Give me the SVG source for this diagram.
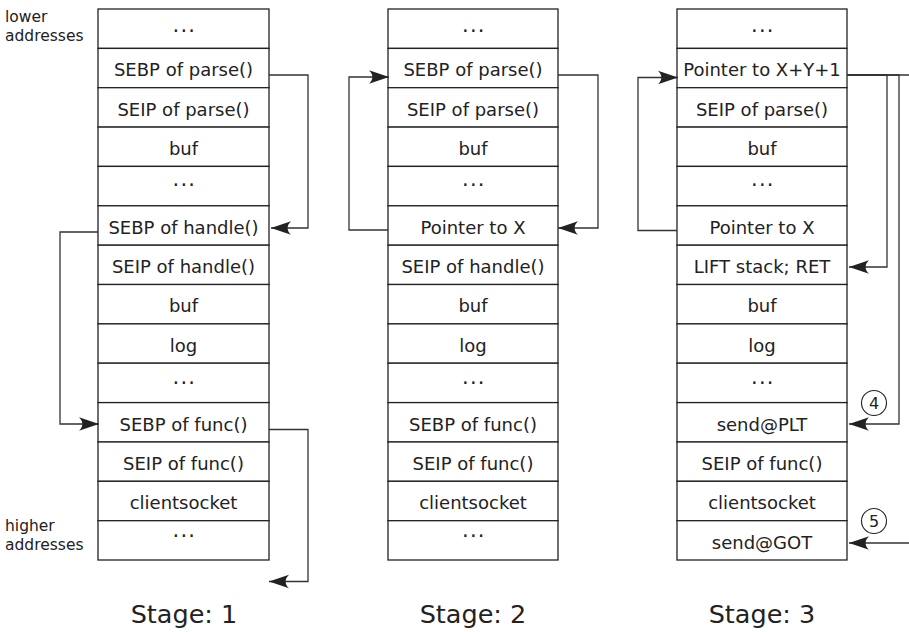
<svg xmlns="http://www.w3.org/2000/svg" width="909" height="632" viewBox="0 0 909 632">
<defs>
<style>
.cell{fill:#fff;stroke:#222;stroke-width:1.3}
.t{font-family:"DejaVu Sans",sans-serif;font-size:18px;fill:#222;text-anchor:middle}
.d{font-family:"DejaVu Sans",sans-serif;font-size:21px;fill:#222;text-anchor:middle;letter-spacing:1.3px}
.side{font-family:"DejaVu Sans",sans-serif;font-size:15.5px;fill:#222}
.stage{font-family:"DejaVu Sans",sans-serif;font-size:25.5px;fill:#222;text-anchor:middle}
.num{font-family:"DejaVu Sans",sans-serif;font-size:16px;fill:#222;text-anchor:middle}
.c{fill:none;stroke:#333;stroke-width:1.3}
.circ{fill:#fff;stroke:#222;stroke-width:1.1}
</style>
<marker id="ah" markerUnits="userSpaceOnUse" markerWidth="24" markerHeight="16" viewBox="-22 -8 24 16" refX="0" refY="0" orient="auto" overflow="visible">
<path d="M0,0 L-20,-6.8 C-15.5,-2.5 -15.5,2.5 -20,6.8 Z" fill="#222"/>
</marker>
</defs>

<text class="side" x="5" y="21.5">lower</text>
<text class="side" x="5" y="40.5">addresses</text>
<text class="side" x="5" y="531">higher</text>
<text class="side" x="5" y="550">addresses</text>

<g id="stack1">
<rect class="cell" x="98" y="9" width="171" height="39.4"/>
<rect class="cell" x="98" y="48.4" width="171" height="39.3"/>
<rect class="cell" x="98" y="87.7" width="171" height="39.4"/>
<rect class="cell" x="98" y="127.1" width="171" height="39.3"/>
<rect class="cell" x="98" y="166.4" width="171" height="39.4"/>
<rect class="cell" x="98" y="205.8" width="171" height="39.4"/>
<rect class="cell" x="98" y="245.2" width="171" height="39.3"/>
<rect class="cell" x="98" y="284.5" width="171" height="39.4"/>
<rect class="cell" x="98" y="323.9" width="171" height="39.3"/>
<rect class="cell" x="98" y="363.2" width="171" height="39.4"/>
<rect class="cell" x="98" y="402.6" width="171" height="39.4"/>
<rect class="cell" x="98" y="442" width="171" height="39.3"/>
<rect class="cell" x="98" y="481.3" width="171" height="39.4"/>
<rect class="cell" x="98" y="520.7" width="171" height="39.3"/>
<text class="d" x="184.4" y="32">...</text>
<text class="t" x="183.5" y="76.2">SEBP of parse()</text>
<text class="t" x="183.5" y="115.6">SEIP of parse()</text>
<text class="t" x="183.5" y="155">buf</text>
<text class="d" x="184.4" y="186.3">...</text>
<text class="t" x="183.5" y="233.6">SEBP of handle()</text>
<text class="t" x="183.5" y="273">SEIP of handle()</text>
<text class="t" x="183.5" y="312.4">buf</text>
<text class="t" x="183.5" y="351.7">log</text>
<text class="d" x="184.4" y="384">...</text>
<text class="t" x="183.5" y="430.5">SEBP of func()</text>
<text class="t" x="183.5" y="469.8">SEIP of func()</text>
<text class="t" x="183.5" y="509.2">clientsocket</text>
<text class="d" x="184.4" y="537">...</text>
</g>

<g id="stack2">
<rect class="cell" x="388" y="9" width="170" height="39.4"/>
<rect class="cell" x="388" y="48.4" width="170" height="39.3"/>
<rect class="cell" x="388" y="87.7" width="170" height="39.4"/>
<rect class="cell" x="388" y="127.1" width="170" height="39.3"/>
<rect class="cell" x="388" y="166.4" width="170" height="39.4"/>
<rect class="cell" x="388" y="205.8" width="170" height="39.4"/>
<rect class="cell" x="388" y="245.2" width="170" height="39.3"/>
<rect class="cell" x="388" y="284.5" width="170" height="39.4"/>
<rect class="cell" x="388" y="323.9" width="170" height="39.3"/>
<rect class="cell" x="388" y="363.2" width="170" height="39.4"/>
<rect class="cell" x="388" y="402.6" width="170" height="39.4"/>
<rect class="cell" x="388" y="442" width="170" height="39.3"/>
<rect class="cell" x="388" y="481.3" width="170" height="39.4"/>
<rect class="cell" x="388" y="520.7" width="170" height="39.3"/>
<text class="d" x="473.9" y="32">...</text>
<text class="t" x="473" y="76.2">SEBP of parse()</text>
<text class="t" x="473" y="115.6">SEIP of parse()</text>
<text class="t" x="473" y="155">buf</text>
<text class="d" x="473.9" y="186.3">...</text>
<text class="t" x="473" y="233.6">Pointer to X</text>
<text class="t" x="473" y="273">SEIP of handle()</text>
<text class="t" x="473" y="312.4">buf</text>
<text class="t" x="473" y="351.7">log</text>
<text class="d" x="473.9" y="384">...</text>
<text class="t" x="473" y="430.5">SEBP of func()</text>
<text class="t" x="473" y="469.8">SEIP of func()</text>
<text class="t" x="473" y="509.2">clientsocket</text>
<text class="d" x="473.9" y="537">...</text>
</g>

<g id="stack3">
<rect class="cell" x="677" y="9" width="170" height="39.4"/>
<rect class="cell" x="677" y="48.4" width="170" height="39.3"/>
<rect class="cell" x="677" y="87.7" width="170" height="39.4"/>
<rect class="cell" x="677" y="127.1" width="170" height="39.3"/>
<rect class="cell" x="677" y="166.4" width="170" height="39.4"/>
<rect class="cell" x="677" y="205.8" width="170" height="39.4"/>
<rect class="cell" x="677" y="245.2" width="170" height="39.3"/>
<rect class="cell" x="677" y="284.5" width="170" height="39.4"/>
<rect class="cell" x="677" y="323.9" width="170" height="39.3"/>
<rect class="cell" x="677" y="363.2" width="170" height="39.4"/>
<rect class="cell" x="677" y="402.6" width="170" height="39.4"/>
<rect class="cell" x="677" y="442" width="170" height="39.3"/>
<rect class="cell" x="677" y="481.3" width="170" height="39.4"/>
<rect class="cell" x="677" y="520.7" width="170" height="39.3"/>
<text class="d" x="762.9" y="32">...</text>
<text class="t" x="762" y="76.2">Pointer to X+Y+1</text>
<text class="t" x="762" y="115.6">SEIP of parse()</text>
<text class="t" x="762" y="155">buf</text>
<text class="d" x="762.9" y="186.3">...</text>
<text class="t" x="762" y="233.6">Pointer to X</text>
<text class="t" x="762" y="273">LIFT stack; RET</text>
<text class="t" x="762" y="312.4">buf</text>
<text class="t" x="762" y="351.7">log</text>
<text class="d" x="762.9" y="384">...</text>
<text class="t" x="762" y="430.5">send@PLT</text>
<text class="t" x="762" y="469.8">SEIP of func()</text>
<text class="t" x="762" y="509.2">clientsocket</text>
<text class="t" x="762" y="548.5">send@GOT</text>
</g>

<g id="connectors">
<path class="c" d="M269,75 H308 V228 H271" marker-end="url(#ah)"/>
<path class="c" d="M98,232 H60 V424 H99" marker-end="url(#ah)"/>
<path class="c" d="M269,429.5 H308 V581.5 H269" marker-end="url(#ah)"/>
<path class="c" d="M388,230 H349 V77 H389" marker-end="url(#ah)"/>
<path class="c" d="M558,75 H598 V228 H558" marker-end="url(#ah)"/>
<path class="c" d="M677,230.5 H638 V77.5 H678" marker-end="url(#ah)"/>
<path class="c" d="M847,75 H887 V267 H849" marker-end="url(#ah)"/>
<path class="c" d="M847,75 H899 V424 H849" marker-end="url(#ah)"/>
<path class="c" d="M847,75 H909"/>
<path class="c" d="M909,543 H849" marker-end="url(#ah)"/>
</g>

<g id="label4">
<circle class="circ" cx="874" cy="403" r="12.5"/>
<text class="num" x="874" y="408.8">4</text>
</g>
<g id="label5">
<circle class="circ" cx="874" cy="521" r="12.5"/>
<text class="num" x="874" y="526.8">5</text>
</g>

<text class="stage" x="184" y="623">Stage: 1</text>
<text class="stage" x="473" y="623">Stage: 2</text>
<text class="stage" x="762" y="623">Stage: 3</text>
</svg>
